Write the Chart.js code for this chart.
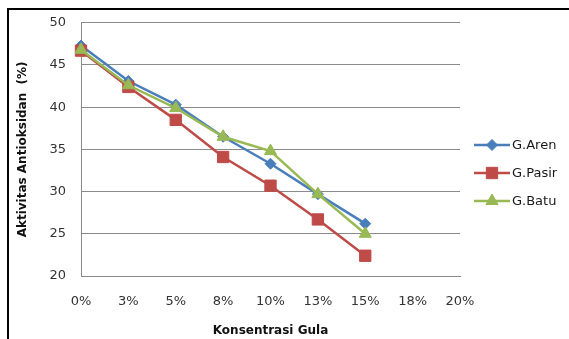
<!DOCTYPE html>
<html>
<head>
<meta charset="utf-8">
<script src="https://cdn.jsdelivr.net/npm/chart.js@4/dist/chart.umd.min.js"></script>
<style>
  html, body { margin: 0; padding: 0; background: #fff; overflow: hidden; }
  #wrap { position: relative; width: 569px; height: 339px; }
  #frame { position: absolute; left: 7px; top: 8px; width: 600px; height: 400px;
           border-left: 2px solid #000; border-top: 2px solid #000; pointer-events: none; }
</style>
</head>
<body>
<div id="wrap">
  <canvas id="c" width="569" height="339"></canvas>
  <div id="frame"></div>
</div>
<script>
// Sugar concentration categories (x axis)
const categories = ['0%', '3%', '5%', '8%', '10%', '13%', '15%', '18%', '20%'];

// Antioxidant activity (%) for each sugar type
const gulaAren  = [47.3, 43.1, 40.3, 36.5, 33.3, 29.7, 26.2];
const gulaPasir = [46.7, 42.4, 38.5, 34.1, 30.7, 26.7, 22.4];
const gulaBatu  = [46.8, 42.6, 39.9, 36.5, 34.8, 29.7, 25.0];

const seriesNames = ['G.Aren', 'G.Pasir', 'G.Batu'];

const FONT = "'DejaVu Sans', 'Liberation Sans', sans-serif";

// Legend drawn as line + marker samples, like an office-style chart legend
const lineLegend = {
  id: 'lineLegend',
  afterDraw(chart) {
    const ctx = chart.ctx;
    const rows = [145, 173, 201];
    chart.data.datasets.forEach((ds, i) => {
      const y = rows[i];
      ctx.save();
      ctx.strokeStyle = ds.borderColor;
      ctx.lineWidth = ds.borderWidth;
      ctx.beginPath();
      ctx.moveTo(474, y);
      ctx.lineTo(510, y);
      ctx.stroke();
      ctx.fillStyle = ds.pointBackgroundColor;
      ctx.strokeStyle = ds.pointBorderColor;
      ctx.lineWidth = 1;
      Chart.helpers.drawPoint(ctx, { pointStyle: ds.pointStyle, rotation: 0, radius: ds.pointRadius, borderWidth: 1 }, 492, y);
      ctx.restore();
      ctx.save();
      ctx.fillStyle = '#1a1a1a';
      ctx.font = '13px ' + FONT;
      ctx.textBaseline = 'middle';
      ctx.fillText(ds.label, 512, y + 1);
      ctx.restore();
    });
  }
};

function series(label, data, color, style, radius, order) {
  return {
    label, data, order,
    borderColor: color,
    backgroundColor: color,
    borderWidth: 2.5,
    pointStyle: style,
    pointRadius: radius,
    pointHoverRadius: radius,
    pointBackgroundColor: color,
    pointBorderColor: color,
    pointBorderWidth: 1,
    tension: 0,
    fill: false
  };
}

new Chart(document.getElementById('c'), {
  type: 'line',
  data: {
    labels: categories,
    datasets: [
      series(seriesNames[0], gulaAren,  '#4A7EBB', 'rectRot', 5.5, 2),
      series(seriesNames[1], gulaPasir, '#BE4B48', 'rect', 8, 1),
      series(seriesNames[2], gulaBatu,  '#98B954', 'triangle', 7, 0)
    ]
  },
  options: {
    responsive: false,
    animation: false,
    devicePixelRatio: 1,
    layout: { padding: { left: 0, right: 109, top: 16, bottom: 0 } },
    plugins: {
      legend: { display: false },
      tooltip: { enabled: false }
    },
    scales: {
      x: {
        offset: false,
        grid: { display: false, drawTicks: false },
        border: { display: true, color: '#8a8a8a', width: 1 },
        ticks: { color: '#333', font: { family: FONT, size: 13 }, padding: 18, maxRotation: 0, autoSkip: false },
        title: { display: true, text: 'Konsentrasi Gula', color: '#111',
                 font: { family: FONT, size: 12, weight: 'bold' }, padding: { top: 0, bottom: 1 } },
        afterFit(scale) { scale.height = 63; }
      },
      y: {
        min: 20, max: 50,
        ticks: { stepSize: 5, color: '#333', font: { family: FONT, size: 13 }, padding: 15 },
        grid: { color: '#8a8a8a', lineWidth: 1, drawTicks: false },
        border: { display: true, color: '#8a8a8a', width: 1 },
        title: { display: true, text: 'Aktivitas Antioksidan  (%)', color: '#111',
                 font: { family: FONT, size: 12, weight: 'bold' }, padding: { top: 16, bottom: 0 } },
        afterFit(scale) { scale.width = 81; }
      }
    }
  },
  plugins: [lineLegend]
});
</script>
</body>
</html>
